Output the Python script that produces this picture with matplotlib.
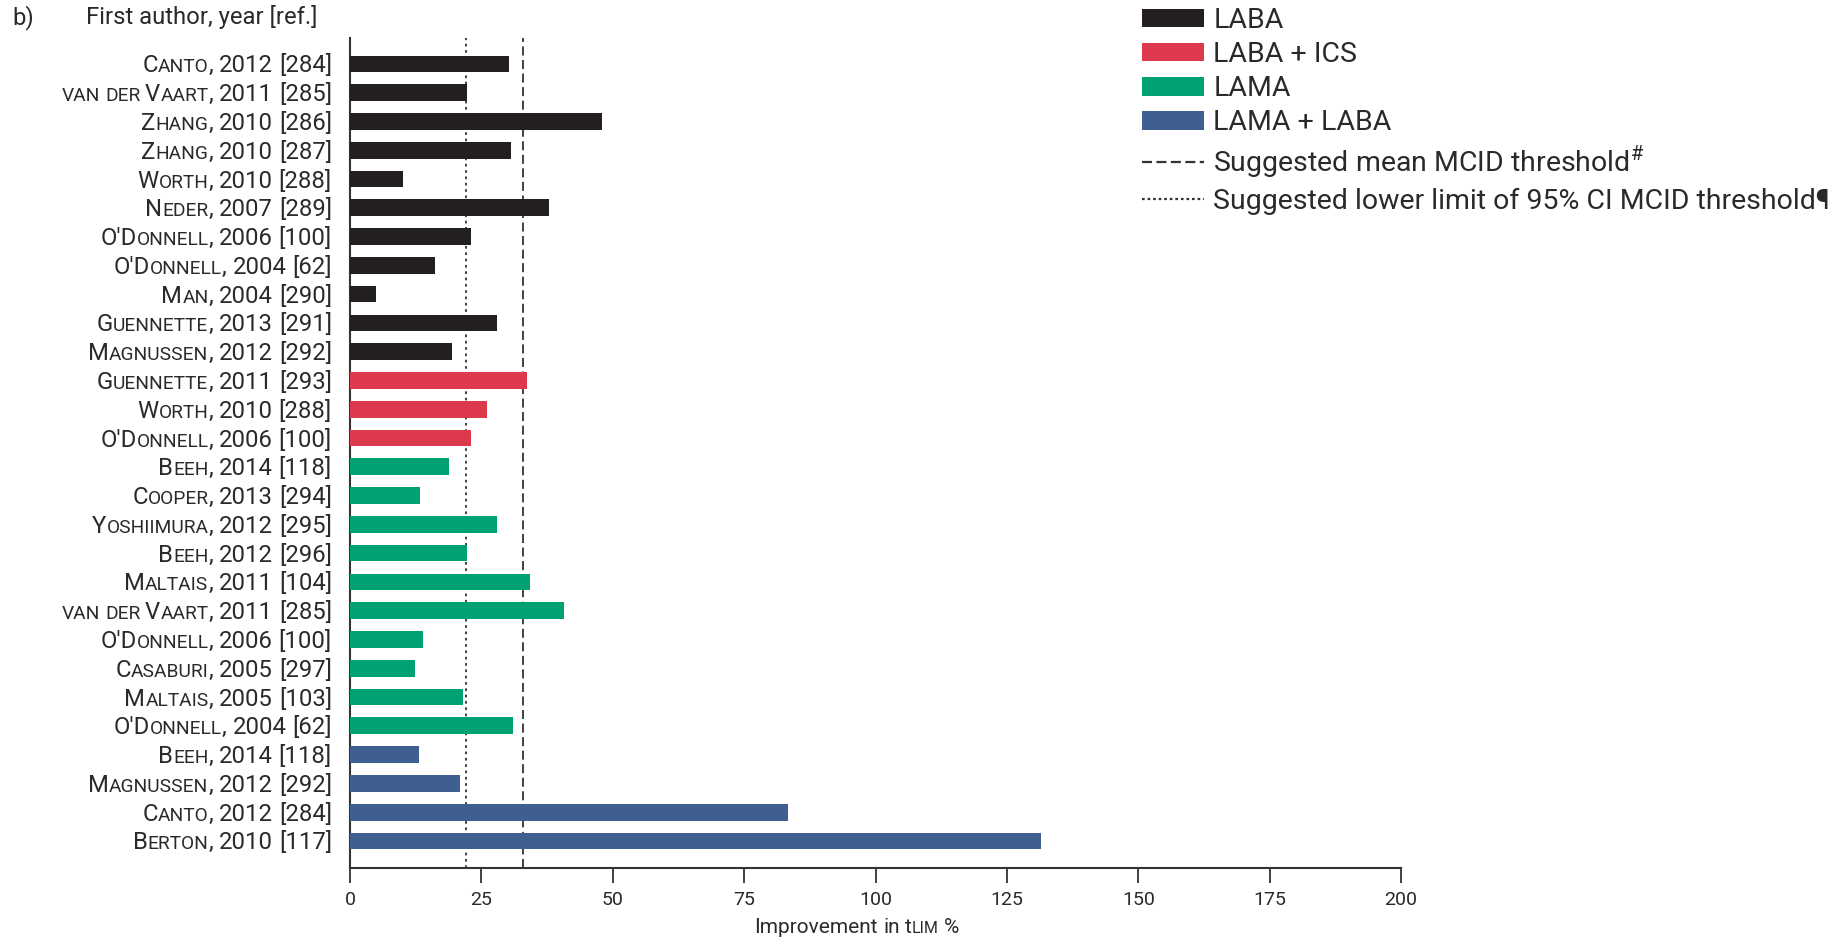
import matplotlib
matplotlib.use("Agg")
import matplotlib.pyplot as plt
from matplotlib import transforms
from matplotlib.patches import Patch
from matplotlib.lines import Line2D

# studies listed top to bottom, improvement in endurance time (%)
studies = [
    "Canto, 2012 [284]", "van der Vaart, 2011 [285]", "Zhang, 2010 [286]",
    "Zhang, 2010 [287]", "Worth, 2010 [288]", "Neder, 2007 [289]",
    "O'Donnell, 2006 [100]", "O'Donnell, 2004 [62]", "Man, 2004 [290]",
    "Guennette, 2013 [291]", "Magnussen, 2012 [292]",
    "Guennette, 2011 [293]", "Worth, 2010 [288]", "O'Donnell, 2006 [100]",
    "Beeh, 2014 [118]", "Cooper, 2013 [294]", "Yoshiimura, 2012 [295]",
    "Beeh, 2012 [296]", "Maltais, 2011 [104]", "van der Vaart, 2011 [285]",
    "O'Donnell, 2006 [100]", "Casaburi, 2005 [297]", "Maltais, 2005 [103]",
    "O'Donnell, 2004 [62]",
    "Beeh, 2014 [118]", "Magnussen, 2012 [292]", "Canto, 2012 [284]",
    "Berton, 2010 [117]",
]
improvement = [
    30.2, 22.2, 47.9, 30.7, 10.0, 37.8, 23.0, 16.1, 5.0, 27.9, 19.4,
    33.7, 26.1, 23.0,
    18.8, 13.3, 27.9, 22.3, 34.2, 40.7, 13.9, 12.4, 21.5, 31.1,
    13.1, 21.0, 83.3, 131.5,
]
treatment = ["LABA"] * 11 + ["LABA + ICS"] * 3 + ["LAMA"] * 10 + ["LAMA + LABA"] * 4

group_names = ["LABA", "LABA + ICS", "LAMA", "LAMA + LABA"]
group_colors = {"LABA": "#231f20", "LABA + ICS": "#dc3a4c",
                "LAMA": "#00a273", "LAMA + LABA": "#3f5f91"}

mcid_mean = 32.9
mcid_lower = 22.1

x_ticks = [0, 25, 50, 75, 100, 125, 150, 175, 200]

FONT = "Roboto"
TEXT = "#2a2a2a"
DPI = 100
BIG = 17.2
SMALL = 13.8
LEGEND_SIZE = 20.5

plt.rcParams["font.family"] = [FONT, "DejaVu Sans"]
plt.rcParams["mathtext.fontset"] = "custom"
plt.rcParams["mathtext.rm"] = FONT
plt.rcParams["text.color"] = TEXT

fig = plt.figure(figsize=(18.43, 9.47), dpi=DPI)
ax = fig.add_axes([350 / 1843, 79 / 947, 1051 / 1843, 830 / 947])

rows = list(range(len(studies)))
ax.barh(rows, improvement, height=0.58,
        color=[group_colors[t] for t in treatment], zorder=3)

ax.axvline(mcid_lower, color="#333333", lw=1.3, ls=(0, (1.5, 2)), zorder=1)
ax.axvline(mcid_mean, color="#333333", lw=1.3, ls=(0, (5, 2.5)), zorder=1)

ax.set_xlim(0, 200)
ax.set_ylim(27.94, -0.9)
ax.set_xticks(x_ticks)
ax.set_xticklabels([str(t) for t in x_ticks], fontsize=14, color=TEXT)
ax.set_yticks([])
ax.tick_params(axis="x", length=10.5, width=1.3, color="#333333", pad=6)
for side in ["top", "right"]:
    ax.spines[side].set_visible(False)
for side in ["left", "bottom"]:
    ax.spines[side].set_color("#333333")
    ax.spines[side].set_linewidth(1.5)

renderer = fig.canvas.get_renderer()


def text_width(s, size):
    probe = fig.text(0, 0, "|" + s + "|", fontsize=size)
    bars = fig.text(0, 0, "||", fontsize=size)
    w = probe.get_window_extent(renderer).width - bars.get_window_extent(renderer).width
    probe.remove()
    bars.remove()
    return w


def small_caps_runs(label):
    # lowercase letters become small capitals, spaces are kept apart
    runs = []
    for ch in label:
        if ch == " ":
            kind = "space"
        elif ch.islower():
            kind = "small"
        else:
            kind = "big"
        if runs and runs[-1][1] == kind:
            runs[-1][0] += ch
        else:
            runs.append([ch, kind])
    out = []
    prev = "big"
    for s, kind in runs:
        if kind == "space":
            out.append((s, SMALL if prev == "small" else BIG, False))
        else:
            out.append((s.upper(), SMALL if kind == "small" else BIG, True))
            prev = kind
    return out


def draw_runs(runs, base, x_px, y, dy_px, ha):
    widths = [text_width(s, size) for s, size, _ in runs]
    total = sum(widths)
    if ha == "right":
        start = x_px - total
    elif ha == "center":
        start = x_px - total / 2
    else:
        start = x_px
    for (s, size, ink), w in zip(runs, widths):
        if ink:
            off = transforms.ScaledTranslation(start / DPI, dy_px / DPI, fig.dpi_scale_trans)
            ax.text(0, y, s, fontsize=size, ha="left", va="baseline",
                    transform=base + off, clip_on=False)
        start += w


# study labels in small capitals to the left of the axis
ytrans = ax.get_yaxis_transform()
for row, label in zip(rows, studies):
    draw_runs(small_caps_runs(label), ytrans, -18, row, -8.5, "right")

# axis title with tLIM in small capitals
xs = 15
xlabel_runs = [("Improvement", xs, True), (" ", xs, False), ("in", xs, True),
               (" ", xs, False), ("t", xs, True), ("LIM", 11.5, True),
               (" ", xs, False), ("%", xs, True)]
draw_runs(xlabel_runs, ax.transAxes, 0.482 * 1051, 0, -65, "center")

fig.text(12 / 1843, 1 - 24 / 947, "b)", fontsize=BIG, va="baseline")
fig.text(86 / 1843, 1 - 24 / 947, "First author, year [ref.]", fontsize=BIG, va="baseline")

handles = [Patch(facecolor=group_colors[g], edgecolor="none") for g in group_names]
handles += [Line2D([], [], color="#333333", lw=1.6, ls=(0, (4.5, 2))),
            Line2D([], [], color="#333333", lw=1.6, ls=(0, (1.2, 1.3)))]
labels = group_names + ["Suggested mean MCID threshold$^{\\#}$",
                        "Suggested lower limit of 95% CI MCID threshold¶"]
fig.legend(handles, labels, loc="upper left", bbox_to_anchor=(1142 / 1843, 1 - 7 / 947),
           frameon=False, fontsize=LEGEND_SIZE, handlelength=2.18, handleheight=0.63,
           handletextpad=0.32, labelspacing=0.25, borderpad=0, borderaxespad=0)

fig.savefig("out.png", dpi=DPI, facecolor="white")
